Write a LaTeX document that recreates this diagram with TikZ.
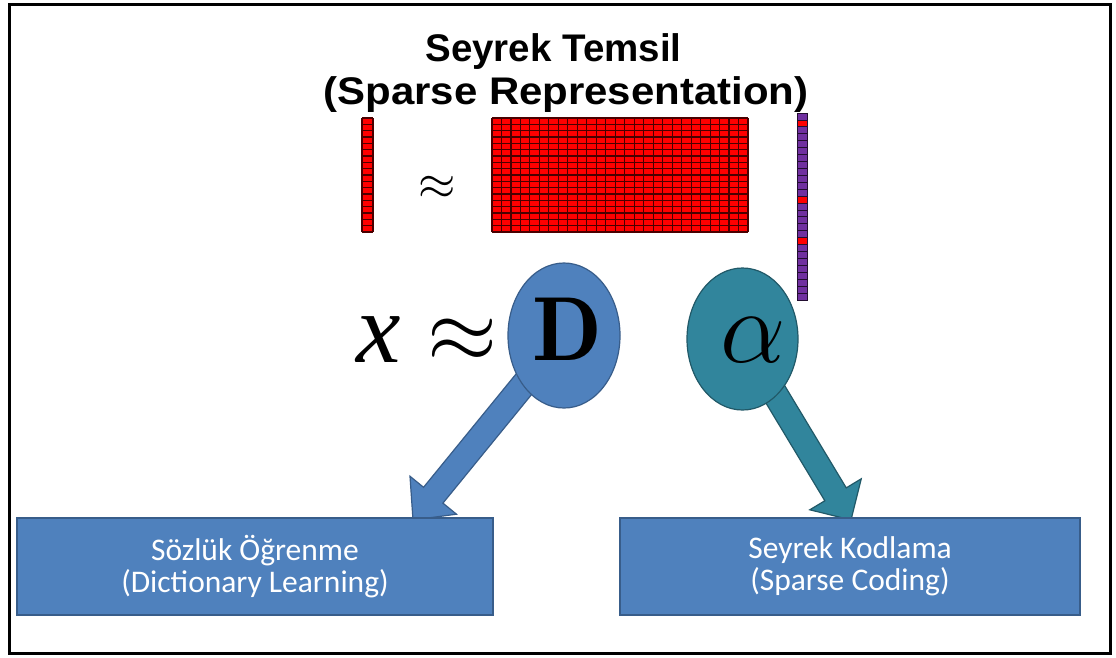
\RequirePackage{fix-cm}
\documentclass[tikz,border=0pt]{standalone}
\usepackage{fontspec}
\usetikzlibrary{shapes.geometric,calc}
\newfontfamily\titlefont{Liberation Sans}
\newfontfamily\boxfont{Carlito}
\newfontfamily\timesfont{Liberation Serif}
\definecolor{offblue}{HTML}{4F81BD}
\definecolor{offblueedge}{HTML}{385D8A}
\definecolor{offteal}{HTML}{31859C}
\definecolor{offtealedge}{HTML}{215968}
\definecolor{offpurple}{HTML}{7030A0}
\definecolor{gridline}{HTML}{4A0000}
\tikzset{
  titletext/.style={font=\titlefont\bfseries\fontsize{38.5}{43}\selectfont, anchor=base, inner sep=0},
  boxnode/.style={draw=offblueedge, line width=1.5pt, fill=offblue, text=white, align=center,
     font=\boxfont\fontsize{31.5}{32}\selectfont, inner sep=0},
  circ/.style={ellipse, line width=1.2pt, inner sep=0},
  bigsym/.style={anchor=base, inner sep=0},
  gl/.style={draw=gridline, line width=1.1pt},
  blockarrow/.style={line width=1.2pt, line join=miter}
}
\begin{document}
\begin{tikzpicture}[x=1pt,y=-1pt]
\useasboundingbox (0,0) rectangle (1116,657);
\fill[white] (0,0) rectangle (1116,657);
\draw[line width=3pt] (9,4) rectangle (1110,653);

% title
\node[titletext] (t1) at (553.5,61) {Seyrek Temsil};
\node[titletext] (t2) at (566,104) {\scalebox{1.09}[1]{(Sparse Representation)}};

% x vector
\fill[red] (362,118) rectangle (373,232);
\foreach \k in {0,...,18} \draw[gl] (362,{118+\k*114/18}) -- ++(11,0);
\draw[gl] (362,118) -- (362,232) (373,118) -- (373,232);

% small approx
\node[bigsym, font=\fontsize{48}{48}\selectfont] (sa) at (437,199) {$\approx$};

% matrix D
\fill[red] (492,118) rectangle (748,232);
\foreach \k in {0,...,27} \draw[gl] ({492+\k*256/27},118) -- ++(0,114);
\foreach \k in {0,...,18} \draw[gl] (492,{118+\k*114/18}) -- ++(256,0);

% alpha vector
\fill[offpurple] (797,113) rectangle (807,300);
\foreach \k in {1,12,18} \fill[red] (797,{113+\k*187/27}) rectangle (807,{113+(\k+1)*187/27});
\foreach \k in {0,...,27} \draw[draw=black!70!offpurple, line width=0.8pt] (797,{113+\k*187/27}) -- ++(10,0);
\draw[draw=black!70!offpurple, line width=0.8pt] (797,113) rectangle (807,300);

% arrows
\coordinate (S1) at (564,335);
\coordinate (T1) at (413,520);
\coordinate (B1) at ($(T1)!32pt!(S1)$);
\filldraw[blockarrow, fill=offblue, draw=offblueedge]
  ($(S1)!12.5pt!90:(T1)$) -- ($(B1)!12.5pt!90:(T1)$) -- ($(B1)!30pt!90:(T1)$) -- (T1)
  -- ($(B1)!30pt!-90:(T1)$) -- ($(B1)!12.5pt!-90:(T1)$) -- ($(S1)!12.5pt!-90:(T1)$) -- cycle;
\coordinate (S2) at (742,339);
\coordinate (T2) at (851,520);
\coordinate (B2) at ($(T2)!30pt!(S2)$);
\filldraw[blockarrow, fill=offteal, draw=offtealedge]
  ($(S2)!12.5pt!90:(T2)$) -- ($(B2)!12.5pt!90:(T2)$) -- ($(B2)!30pt!90:(T2)$) -- (T2)
  -- ($(B2)!30pt!-90:(T2)$) -- ($(B2)!12.5pt!-90:(T2)$) -- ($(S2)!12.5pt!-90:(T2)$) -- cycle;

% ellipses
\node[circ, fill=offblue, draw=offblueedge, minimum width=112, minimum height=145] (D) at (564,335.5) {};
\node[circ, fill=offteal, draw=offtealedge, minimum width=111, minimum height=142] (A) at (742.5,339) {};

% big symbols
\node[bigsym, font=\timesfont\itshape\fontsize{100}{100}\selectfont] (x) at (378.5,362) {x};
\node[bigsym, font=\fontsize{90}{90}\selectfont] (ap) at (462,362) {$\approx$};
\node[bigsym, font=\fontsize{91}{91}\selectfont] (Dl) at (567,360) {$\mathbf{D}$};
\node[bigsym, font=\fontsize{104}{104}\selectfont] (al) at (753.5,362) {$\alpha$};

% boxes
\node[boxnode, minimum width=476, minimum height=97] (L) at (255,566.5) {Sözlük Öğrenme\\(Dictionary Learning)};
\node[boxnode, minimum width=460, minimum height=97] (R) at (850,566.5) {Seyrek Kodlama\\(Sparse Coding)};
\end{tikzpicture}
\end{document}
